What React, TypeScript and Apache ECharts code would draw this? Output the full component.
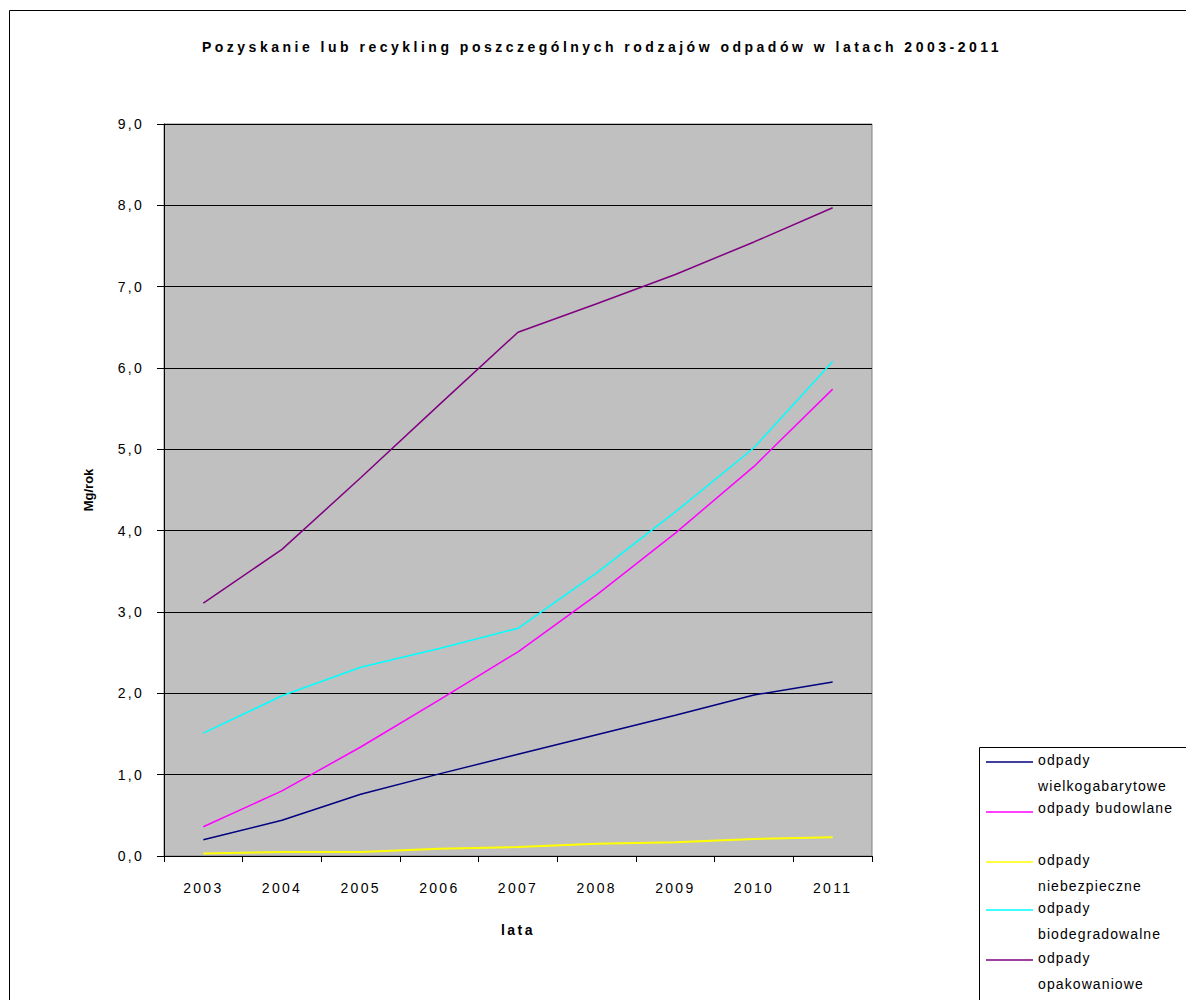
import React, { useEffect, useRef } from "react";
import * as echarts from "echarts";

const TITLE = "Pozyskanie lub recykling poszczególnych rodzajów odpadów w latach 2003-2011";
const X_NAME = "lata";
const Y_NAME = "Mg/rok";

const years = ["2003", "2004", "2005", "2006", "2007", "2008", "2009", "2010", "2011"];

const seriesNames = [
  "odpady wielkogabarytowe",
  "odpady budowlane",
  "odpady niebezpieczne",
  "odpady biodegradowalne",
  "odpady opakowaniowe",
];
const legendLines = [
  ["odpady", "wielkogabarytowe"],
  ["odpady budowlane"],
  ["odpady", "niebezpieczne"],
  ["odpady", "biodegradowalne"],
  ["odpady", "opakowaniowe"],
];
const seriesColors = ["#000080", "#FF00FF", "#FFFF00", "#00FFFF", "#800080"];

const wielkogabarytowe = [0.2, 0.44, 0.76, 1.01, 1.25, 1.49, 1.73, 1.98, 2.14];
const budowlane = [0.36, 0.8, 1.34, 1.92, 2.51, 3.21, 3.97, 4.79, 5.74];
const niebezpieczne = [0.03, 0.05, 0.05, 0.09, 0.11, 0.15, 0.17, 0.21, 0.23];
const biodegradowalne = [1.51, 1.97, 2.32, 2.55, 2.8, 3.48, 4.23, 5.02, 6.08];
const opakowaniowe = [3.11, 3.77, 4.65, 5.55, 6.44, 6.79, 7.15, 7.55, 7.97];

const seriesValues = [wielkogabarytowe, budowlane, niebezpieczne, biodegradowalne, opakowaniowe];

// legend icon centre positions (layout)
const legendIconY = [766, 818, 866, 914, 964];

const css = `
.chart-root text[style*="xTitle"] { letter-spacing: 3.5px; }
.chart-root text[style*="xAxisLbl"] { letter-spacing: 2.3px; }
.chart-root text[style*="xAxisName"] { letter-spacing: 2.5px; }
.chart-root text[style*="xLegend"] { letter-spacing: 1.1px; }
`;

export default function App() {
  const ref = useRef<HTMLDivElement>(null);

  useEffect(() => {
    if (!ref.current) return;
    const chart = echarts.init(ref.current, null, { renderer: "svg" });
    const lh = 26;
    const padTop = 22;
    const padBottom = 8;
    const legendFont = "Liberation Sans, xLegend";
    const legends = seriesNames.map((name, i) => {
      const lines = legendLines[i];
      const twoLine = lines.length > 1;
      const blockH = twoLine ? padTop + 2 * lh : lh + padBottom;
      const text = twoLine
        ? `{p| }\n{t|${lines[0]}}\n{t|${lines[1]}}`
        : `{t|${lines[0]}}\n{q| }`;
      return {
        orient: "vertical",
        left: 986,
        top: legendIconY[i] - blockH / 2,
        padding: 0,
        itemWidth: 47,
        itemHeight: 1.5,
        icon: "rect",
        z: 10,
        data: [name],
        formatter: () => text,
        textStyle: {
          fontSize: 14,
          color: "#000",
          fontFamily: legendFont,
          rich: {
            p: { fontSize: 14, lineHeight: padTop, fontFamily: legendFont },
            q: { fontSize: 8, lineHeight: padBottom, fontFamily: legendFont },
            t: { fontSize: 14, lineHeight: lh, color: "#000", fontFamily: legendFont },
          },
        },
      };
    });

    const option = {
      animation: false,
      backgroundColor: "#ffffff",
      title: {
        text: TITLE,
        left: 602,
        top: 40,
        padding: 0,
        textAlign: "center",
        textStyle: {
          fontSize: 14,
          fontWeight: "bold",
          color: "#000",
          fontFamily: "Liberation Sans, xTitle",
        },
      },
      graphic: [
        {
          type: "rect",
          z: 0,
          silent: true,
          shape: { x: 9.5, y: 10.5, width: 1400, height: 1200 },
          style: { fill: "transparent", stroke: "#000", lineWidth: 1 },
        },
        {
          type: "rect",
          z: 1,
          silent: true,
          shape: { x: 979.5, y: 747.5, width: 400, height: 400 },
          style: { fill: "#ffffff", stroke: "#000", lineWidth: 1 },
        },
      ],
      legend: legends,
      grid: {
        left: 164,
        right: 314,
        top: 124,
        bottom: 144,
        show: true,
        backgroundColor: "#C0C0C0",
        borderColor: "#808080",
        borderWidth: 1,
      },
      xAxis: {
        type: "category",
        data: years,
        boundaryGap: true,
        name: X_NAME,
        nameLocation: "middle",
        nameGap: 67,
        nameTextStyle: {
          fontSize: 14,
          fontWeight: "bold",
          color: "#000",
          fontFamily: "Liberation Sans, xAxisName",
        },
        axisLine: { show: true, lineStyle: { color: "#000", width: 1 } },
        axisTick: { show: true, length: 6, lineStyle: { color: "#000" } },
        axisLabel: {
          margin: 25,
          fontSize: 14,
          color: "#000",
          fontFamily: "Liberation Sans, xAxisLbl",
        },
        splitLine: { show: false },
      },
      yAxis: {
        type: "value",
        min: 0,
        max: 9,
        interval: 1,
        name: Y_NAME,
        nameLocation: "middle",
        nameGap: 69,
        nameRotate: 90,
        nameTextStyle: {
          fontSize: 13,
          fontWeight: "bold",
          color: "#000",
          fontFamily: "Liberation Sans",
        },
        axisLine: { show: true, lineStyle: { color: "#000", width: 1 } },
        axisTick: { show: true, length: 7, lineStyle: { color: "#000" } },
        axisLabel: {
          margin: 20,
          fontSize: 14,
          color: "#000",
          fontFamily: "Liberation Sans, xAxisLbl",
          formatter: (v: number) => v.toFixed(1).replace(".", ","),
        },
        splitLine: { show: true, lineStyle: { color: "#000", width: 1 } },
      },
      series: seriesNames.map((name, i) => ({
        name,
        type: "line",
        data: seriesValues[i],
        symbol: "none",
        showSymbol: false,
        lineStyle: { color: seriesColors[i], width: i === 2 ? 2 : 1.5 },
        itemStyle: { color: seriesColors[i] },
        z: 3,
      })),
    };
    chart.setOption(option as any);
    return () => chart.dispose();
  }, []);

  return (
    <>
      <style>{css}</style>
      <div
        ref={ref}
        className="chart-root"
        style={{ position: "absolute", left: 0, top: 0, width: 1186, height: 1000, background: "#fff" }}
      />
    </>
  );
}
